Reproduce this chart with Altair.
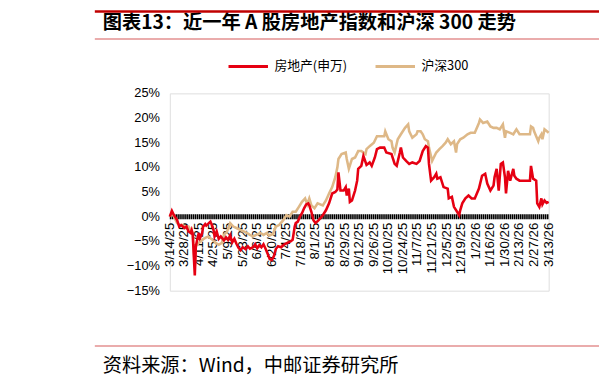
import altair as alt
import pandas as pd

# ---------------- data ----------------
START = "2025-03-14"
END_DAY = 364  # 2026-03-13

series_names = ["房地产(申万)", "沪深300"]
series_colors = ["#E60012", "#DEB887"]

# day offsets from 2025-03-14, values in %
re_day = [0, 2, 4, 7, 9, 11, 14, 16, 18, 20, 21, 22, 24, 25, 27, 28, 29, 31, 32, 34,
          35, 37, 38, 39, 41, 42, 43, 45, 47, 49, 52, 54, 56, 58, 60, 62, 64, 66, 68, 70,
          73, 75, 77, 80, 82, 84, 86, 88, 90, 92, 94, 96, 98, 100, 102, 104, 107, 110, 113, 116,
          118, 120, 121, 123, 125, 127, 129, 131, 133, 134, 136, 138, 140, 143, 147, 150, 153, 156, 159, 161,
          162, 164, 167, 169, 170, 172, 173, 175, 178, 180, 181, 184, 186, 189, 192, 194, 197, 199, 202, 206,
          208, 213, 216, 218, 221, 222, 224, 227, 230, 233, 237, 240, 243, 246, 248, 249, 251, 254, 256, 257,
          260, 263, 267, 268, 271, 273, 276, 278, 279, 281, 284, 287, 290, 293, 297, 300, 303, 305, 308, 311,
          312, 314, 316, 318, 320, 322, 323, 325, 327, 330, 331, 333, 336, 346, 347, 349, 352, 353, 355, 357,
          358, 360, 362, 364]
re_val = [0.0, 1.2, 0.3, -0.7, -2.0, -1.7, -2.3, -2.0, -3.0, -3.3, -2.7, -3.5, -11.9, -6.0, -4.0, -3.3, -4.3, -3.5, -2.0, -1.5,
          -1.8, -1.4, -1.2, -1.0, -2.0, -2.7, -4.0, -3.0, -4.5, -4.0, -4.8, -4.2, -4.7, -3.8, -5.2, -4.5, -5.5, -6.3, -6.8, -6.2,
          -6.6, -6.0, -6.5, -6.2, -5.6, -6.4, -5.8, -6.2, -5.6, -6.5, -7.5, -8.6, -8.8, -8.0, -6.5, -6.0, -6.2, -5.6, -5.3, -5.0,
          -4.7, -2.0, -1.3, -1.0, 0.0, 0.7, 1.7, 2.5, 2.7, 2.3, 1.0, -0.7, -1.3, -0.7, 0.3, 1.3, 2.7, 4.7, 5.0, 5.5,
          9.0, 5.3, 5.3, 6.0, 4.3, 5.7, 3.0, 3.3, 5.3, 7.3, 9.7, 10.3, 12.3, 10.5, 11.0, 10.3, 12.0, 13.7, 14.0, 14.0,
          13.0, 12.7, 10.7, 10.3, 13.0, 14.0, 12.0, 11.3, 10.7, 11.0, 10.7, 11.3, 13.3, 14.3, 14.0, 10.7, 7.3, 8.0, 8.7, 7.7,
          8.0, 6.0, 5.7, 3.7, 4.0, 2.0, 1.0, 0.3, 1.3, 2.7, 3.7, 4.3, 3.7, 3.7, 5.7, 8.3, 8.7, 6.7, 5.3, 6.3,
          8.0, 9.7, 5.3, 10.7, 11.0, 8.0, 4.7, 9.3, 7.3, 9.7, 8.3, 7.7, 7.3, 7.3, 10.3, 7.7, 7.3, 2.7, 2.0, 3.7,
          2.5, 3.3, 2.8, 3.0]

hs_day = [0, 2, 4, 7, 9, 12, 15, 18, 21, 22, 24, 25, 28, 31, 34, 37, 41, 44, 47, 50,
          52, 55, 58, 61, 64, 68, 71, 74, 77, 80, 83, 87, 90, 93, 96, 99, 102, 105, 109, 112,
          115, 118, 121, 124, 127, 130, 132, 134, 136, 139, 142, 147, 150, 153, 156, 159, 161, 162, 165, 169,
          170, 172, 175, 178, 181, 184, 188, 189, 192, 196, 199, 206, 207, 210, 213, 214, 216, 219, 222, 226,
          229, 230, 233, 237, 238, 241, 243, 245, 248, 249, 252, 256, 259, 262, 265, 267, 270, 273, 275, 276,
          279, 282, 286, 289, 293, 297, 298, 301, 305, 308, 311, 314, 317, 320, 322, 323, 327, 330, 333, 336,
          346, 347, 349, 350, 354, 355, 357, 358, 360, 364]
hs_val = [0.0, 0.7, 0.0, -1.3, -1.7, -1.7, -2.0, -2.0, -3.0, -3.3, -10.0, -6.0, -5.3, -4.7, -4.3, -4.0, -4.7, -5.3, -5.7, -5.3,
          -3.7, -3.0, -1.3, -2.0, -2.3, -2.7, -3.0, -3.3, -3.7, -4.0, -3.7, -3.3, -3.7, -3.3, -3.8, -3.5, -2.0, -1.7, -0.7, 0.3,
          0.0, 1.0, 1.0, 2.0, 3.0, 3.7, 2.5, 3.7, 2.3, 1.7, 2.7, 2.3, 3.3, 4.7, 6.0, 8.0, 10.0, 11.7, 12.7, 13.0,
          11.7, 9.7, 11.7, 12.0, 13.3, 13.3, 12.7, 13.7, 14.3, 15.0, 16.3, 16.3, 17.3, 15.7, 15.3, 14.0, 13.0, 15.7, 16.7, 18.0,
          18.7, 17.3, 16.0, 16.7, 17.3, 17.3, 16.7, 15.7, 15.3, 14.0, 11.3, 13.0, 13.7, 14.3, 15.0, 15.7, 14.7, 15.3, 13.0, 14.7,
          15.7, 16.0, 16.7, 17.0, 17.0, 19.0, 19.7, 19.0, 19.3, 18.3, 18.0, 18.0, 17.7, 18.7, 16.0, 17.3, 17.0, 16.7, 17.7, 16.7,
          16.7, 18.3, 18.0, 17.3, 15.3, 16.0, 16.7, 15.7, 17.7, 17.0]

y_ticks = [-0.15, -0.10, -0.05, 0.0, 0.05, 0.10, 0.15, 0.20, 0.25]
x_label_step_days = 14  # date labels every two weeks, 3/14/25 ... 3/13/26

title_text = "图表13：近一年 A 股房地产指数和沪深 300 走势"
source_text = "资料来源：Wind，中邮证券研究所"

# ---------------- build tables ----------------
start = pd.Timestamp(START)
end = start + pd.Timedelta(days=END_DAY)
df = pd.concat([
    pd.DataFrame({"day": hs_day, "v": hs_val, "s": series_names[1], "o": 0}),
    pd.DataFrame({"day": re_day, "v": re_val, "s": series_names[0], "o": 1}),
])
df["date"] = start + pd.to_timedelta(df["day"], unit="D")
df["v"] = df["v"] / 100.0
df = df[["date", "v", "s", "o"]]

label_dates = pd.date_range(start, end, freq=f"{x_label_step_days}D")
xlab_df = pd.DataFrame({"date": label_dates, "v": 0.0})
ylab_df = pd.DataFrame({"v": y_ticks})

W, H = 384, 200
x_scale = alt.Scale(domain=[alt.DateTime(year=start.year, month=start.month, date=start.day),
                            alt.DateTime(year=end.year, month=end.month, date=end.day)])
y_scale = alt.Scale(domain=[-0.15, 0.25], nice=False, zero=False)

AX_FONT = "Liberation Sans"

lines = alt.Chart(df).mark_line(strokeWidth=2.6, interpolate="linear").encode(
    x=alt.X("date:T", scale=x_scale, axis=None),
    y=alt.Y("v:Q", scale=y_scale,
            axis=alt.Axis(values=y_ticks, title=None, grid=False, ticks=False, labels=False,
                          domainColor="#000", domainWidth=1)),
    color=alt.Color("s:N", scale=alt.Scale(domain=series_names, range=series_colors),
                    legend=alt.Legend(orient="none", legendX=58, legendY=-49, direction="horizontal",
                                      title=None, symbolType="stroke", symbolSize=1600,
                                      symbolStrokeWidth=3, labelFont="Noto Sans CJK SC",
                                      labelFontSize=13, labelColor="#000", labelOffset=5,
                                      columnPadding=22)),
    detail="o:N",
    order=alt.Order("date:T"),
)

band_df = pd.DataFrame({"a": [start], "b": [end], "y": [0.0]})
band = alt.Chart(band_df).mark_rule(color="#000", strokeWidth=5, strokeDash=[1.6, 0.5]).encode(
    x=alt.X("a:T", axis=None), x2="b:T", y=alt.Y("y:Q", axis=None))

xlabels = alt.Chart(xlab_df).mark_text(
    angle=270, align="right", baseline="middle", dx=-6,
    font=AX_FONT, fontSize=13.5, color="#000").encode(
    x=alt.X("date:T", axis=None), y=alt.Y("v:Q", axis=None),
    text=alt.Text("date:T", format="%-m/%-d/%y"))

ylabels = alt.Chart(ylab_df).mark_text(
    align="right", baseline="middle", dx=-10,
    font=AX_FONT, fontSize=13, color="#000").encode(
    x=alt.value(0), y=alt.Y("v:Q", axis=None),
    text=alt.Text("v:Q", format=".0%"))

title = alt.Chart(pd.DataFrame({"t": [title_text]})).mark_text(
    align="left", baseline="middle", font="Noto Sans CJK SC",
    fontWeight="bold", fontSize=19.5, color="#000").encode(
    text="t:N", x=alt.value(-68), y=alt.value(-71))
src = alt.Chart(pd.DataFrame({"t": [source_text]})).mark_text(
    align="left", baseline="middle", font="Noto Sans CJK SC", fontSize=19.5, color="#000").encode(
    text="t:N", x=alt.value(-68), y=alt.value(276))

rule_df = pd.DataFrame({"k": [1]})
top_line = alt.Chart(rule_df).mark_rule(color="#C00000", strokeWidth=2.5).encode(
    x=alt.value(-76), x2=alt.value(440), y=alt.value(-83))
sub_line = alt.Chart(rule_df).mark_rule(color="#E39090", strokeWidth=1.5).encode(
    x=alt.value(-76), x2=alt.value(440), y=alt.value(-55))
src_line = alt.Chart(rule_df).mark_rule(color="#E39090", strokeWidth=1.5).encode(
    x=alt.value(-76), x2=alt.value(440), y=alt.value(256))

chart = alt.layer(xlabels, ylabels, band, lines, title, src, top_line, sub_line, src_line).properties(
    width=W, height=H,
    padding={"left": 164, "top": 84, "right": 51, "bottom": 87},
    autosize=alt.AutoSizeParams(type="none"),
).configure_view(stroke=None).configure(background="white")

chart.save("out.html", embed_options={"renderer": "svg", "actions": False})
